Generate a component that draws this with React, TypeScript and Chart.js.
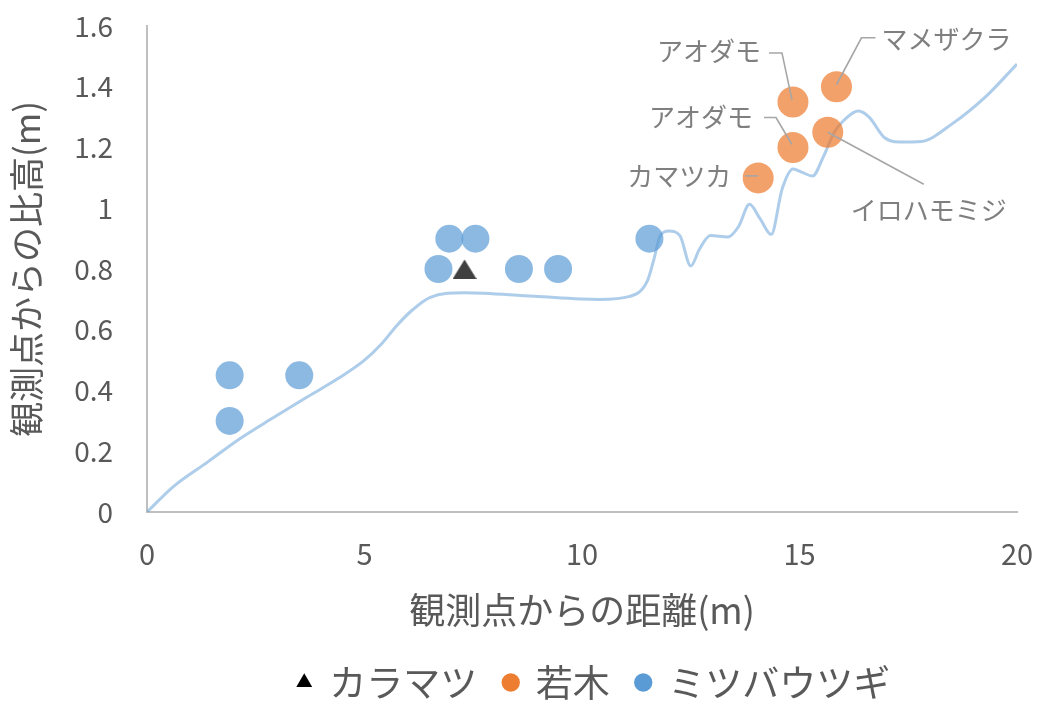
import React, { useEffect, useRef } from "react";
import { Chart, registerables } from "chart.js";

Chart.register(...registerables);

const FONT = '"Noto Sans CJK JP", "Noto Sans", sans-serif';

// カラマツ
const larchX = [7.3];
const larchY = [0.8];

// 若木（樹種名つき）
const saplingNames = ["カマツカ", "アオダモ", "アオダモ", "イロハモミジ", "マメザクラ"];
const saplingX = [14.05, 14.85, 14.85, 15.65, 15.85];
const saplingY = [1.1, 1.2, 1.35, 1.25, 1.4];

// ミツバウツギ
const shrubX = [1.9, 1.9, 3.5, 6.7, 6.95, 7.55, 8.55, 9.45, 11.55];
const shrubY = [0.45, 0.3, 0.45, 0.8, 0.9, 0.9, 0.8, 0.8, 0.9];

// 地表面の断面
const groundX = [
  0, 0.6, 1.4, 2.1, 2.9, 3.7, 4.4, 5.0, 5.4, 5.75, 6.1, 6.5, 7.3, 8.9, 10.4,
  11.1, 11.5, 11.65, 11.8, 12.0, 12.25, 12.5, 12.7, 12.95, 13.35, 13.6, 13.85,
  14.1, 14.35, 14.6, 14.85, 15.05, 15.3, 15.55, 15.8, 16.1, 16.35, 16.6, 16.95,
  17.3, 17.8, 18.5, 19.3, 20,
];
const groundY = [
  0, 0.083, 0.165, 0.238, 0.31, 0.38, 0.44, 0.5, 0.555, 0.615, 0.665, 0.706,
  0.722, 0.71, 0.7, 0.71, 0.76, 0.83, 0.91, 0.925, 0.91, 0.81, 0.865, 0.91,
  0.905, 0.94, 1.013, 0.964, 0.914, 1.063, 1.129, 1.119, 1.106, 1.17, 1.25,
  1.3, 1.32, 1.3, 1.233, 1.218, 1.22, 1.277, 1.37, 1.475,
];

const xTickValues = [0, 5, 10, 15, 20];
const yTickValues = [0, 0.2, 0.4, 0.6, 0.8, 1, 1.2, 1.4, 1.6];

const xTitle = "観測点からの距離(m)";
const yTitle = "観測点からの比高(m)";
const larchLabel = "カラマツ";
const saplingLabel = "若木";
const shrubLabel = "ミツバウツギ";

const TEXT_GRAY = "#595959";
const CALLOUT_TEXT = "#7f7f7f";
const CALLOUT_LINE = "#a6a6a6";
const AXIS_LINE = "#bfbfbf";
const ORANGE = "#ED7D31";
const BLUE = "#5B9BD5";
const LARCH_FILL = "#404040";
const LEGEND_SHIFT = 12;

// Callout placement relative to each sapling marker (pixels)
const calloutPlacement = [
  { tx: -27, ty: -2, align: "right", path: [[-13, -2], [0, -2]] },
  { tx: -40, ty: -30, align: "right", path: [[-29, -30], [-17, -30], [-1, -3]] },
  { tx: -32, ty: -51, align: "right", path: [[-24, -49], [-11, -49], [-1, -2]] },
  { tx: 23, ty: 78, align: "left", path: [[0, 0], [96, 52]] },
  { tx: 45, ty: -48, align: "left", path: [[39, -49], [25, -49], [0, -2]] },
];

const pts = (xs: number[], ys: number[]) => xs.map((x, i) => ({ x, y: ys[i] }));

// Triangle marker whose bounding box is centred on the data point
function makeTriangleMarker(w: number, h: number, color: string) {
  const c = document.createElement("canvas");
  c.width = w;
  c.height = h;
  const g = c.getContext("2d")!;
  g.fillStyle = color;
  g.beginPath();
  g.moveTo(w / 2, 0.5);
  g.lineTo(w, h);
  g.lineTo(0, h);
  g.closePath();
  g.fill();
  return c;
}

const calloutPlugin = {
  id: "saplingCallouts",
  afterDatasetsDraw(chart: any) {
    const meta = chart.getDatasetMeta(1);
    const ctx = chart.ctx;
    ctx.save();
    meta.data.forEach((el: any, i: number) => {
      const p = calloutPlacement[i];
      if (!p) return;
      ctx.strokeStyle = CALLOUT_LINE;
      ctx.lineWidth = 1.6;
      ctx.beginPath();
      p.path.forEach(([dx, dy], k) => {
        if (k === 0) ctx.moveTo(el.x + dx, el.y + dy);
        else ctx.lineTo(el.x + dx, el.y + dy);
      });
      ctx.stroke();
      ctx.fillStyle = CALLOUT_TEXT;
      ctx.font = `26px ${FONT}`;
      ctx.textAlign = p.align;
      ctx.textBaseline = "middle";
      ctx.fillText(saplingNames[i], el.x + p.tx, el.y + p.ty);
    });
    ctx.restore();
  },
};

const legendNudge = {
  id: "legendNudge",
  afterLayout(chart: any) {
    const lg = chart.legend;
    if (!lg) return;
    lg.left += LEGEND_SHIFT;
    lg.right += LEGEND_SHIFT;
  },
};

export default function App() {
  const canvasRef = useRef<HTMLCanvasElement | null>(null);

  useEffect(() => {
    if (!canvasRef.current) return;
    const triangle = makeTriangleMarker(24, 20, LARCH_FILL);
    const chart = new Chart(canvasRef.current, {
      type: "scatter",
      data: {
        datasets: [
          {
            label: larchLabel,
            data: pts(larchX, larchY),
            pointStyle: triangle,
            pointRadius: 12,
            backgroundColor: LARCH_FILL,
            borderWidth: 0,
          },
          {
            label: saplingLabel,
            data: pts(saplingX, saplingY),
            pointRadius: 15.5,
            backgroundColor: "rgba(237,125,49,0.72)",
            borderWidth: 0,
          },
          {
            label: shrubLabel,
            data: pts(shrubX, shrubY),
            pointRadius: 14,
            backgroundColor: "rgba(91,155,213,0.7)",
            borderWidth: 0,
          },
          {
            label: "地表面",
            data: pts(groundX, groundY),
            showLine: true,
            pointRadius: 0,
            borderColor: "rgba(91,155,213,0.5)",
            borderWidth: 3,
            cubicInterpolationMode: "monotone",
          },
        ],
      },
      options: {
        responsive: false,
        animation: false,
        events: [],
        layout: { autoPadding: false, padding: { top: 26, right: 28, left: 0, bottom: 0 } },
        scales: {
          x: {
            type: "linear",
            min: 0,
            max: 20,
            afterBuildTicks: (s: any) => {
              s.ticks = xTickValues.map((v) => ({ value: v }));
            },
            afterFit: (s: any) => {
              s.height = 125;
              s.paddingLeft = 0;
              s.paddingRight = 0;
            },
            grid: { display: false, drawTicks: false },
            border: { display: true, color: AXIS_LINE, width: 2 },
            ticks: {
              padding: 25,
              color: TEXT_GRAY,
              font: { family: FONT, size: 29 },
            },
            title: {
              display: true,
              text: xTitle,
              color: TEXT_GRAY,
              font: { family: FONT, size: 36 },
              padding: { top: 0, bottom: 5 },
            },
          },
          y: {
            type: "linear",
            min: 0,
            max: 1.6,
            afterBuildTicks: (s: any) => {
              s.ticks = yTickValues.map((v) => ({ value: v }));
            },
            afterFit: (s: any) => {
              s.width = 147;
              s.paddingTop = 0;
              s.paddingBottom = 0;
            },
            grid: { display: false, drawTicks: false },
            border: { display: true, color: AXIS_LINE, width: 2 },
            ticks: {
              padding: 34,
              color: TEXT_GRAY,
              font: { family: FONT, size: 28 },
              callback: (v: any) => String(Math.round(Number(v) * 10) / 10),
            },
            title: {
              display: true,
              text: yTitle,
              color: TEXT_GRAY,
              font: { family: FONT, size: 35 },
              padding: { top: 6, bottom: 0 },
            },
          },
        },
        plugins: {
          tooltip: { enabled: false },
          legend: {
            position: "bottom",
            fullSize: false,
            labels: {
              usePointStyle: true,
              boxWidth: 13,
              boxHeight: 13,
              padding: 27,
              color: TEXT_GRAY,
              font: { family: FONT, size: 37 },
              generateLabels: () => [
                { text: larchLabel, fillStyle: "#000000", strokeStyle: "#000000", lineWidth: 0, pointStyle: "triangle", datasetIndex: 0, hidden: false, fontColor: TEXT_GRAY },
                { text: saplingLabel, fillStyle: ORANGE, strokeStyle: ORANGE, lineWidth: 0, pointStyle: "circle", datasetIndex: 1, hidden: false, fontColor: TEXT_GRAY },
                { text: shrubLabel, fillStyle: BLUE, strokeStyle: BLUE, lineWidth: 0, pointStyle: "circle", datasetIndex: 2, hidden: false, fontColor: TEXT_GRAY },
              ],
            },
          },
        },
      } as any,
      plugins: [calloutPlugin as any, legendNudge as any],
    });
    return () => chart.destroy();
  }, []);

  return (
    <div
      style={{
        position: "fixed",
        left: 0,
        top: 0,
        width: 1045,
        height: 702,
        overflow: "hidden",
        background: "#ffffff",
      }}
    >
      <canvas ref={canvasRef} width={1045} height={711} style={{ display: "block" }} />
    </div>
  );
}
